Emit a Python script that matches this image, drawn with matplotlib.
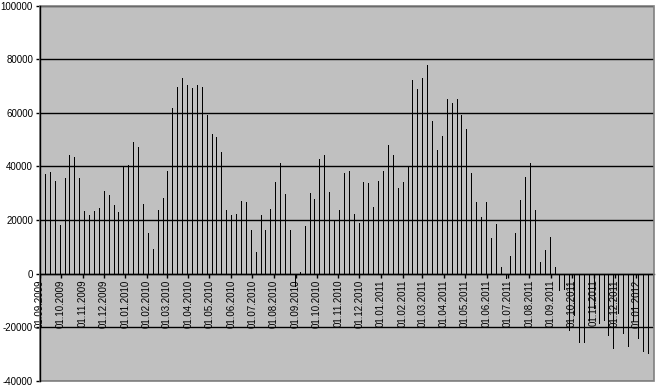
import datetime as dt
import numpy as np
import matplotlib
matplotlib.use('Agg')
import matplotlib.pyplot as plt
import matplotlib.dates as mdates
from matplotlib.patches import Rectangle

# weekly values, first week starting 08.09.2009
start_date = dt.date(2009, 9, 8)
values = [
    37200, 38100, 34700, 18200, 35700, 44400, 43700, 35500, 23500, 21900,
    23500, 24600, 31000, 29500, 25700, 22900, 39700, 40400, 49000, 47100,
    25900, 15200, 9200, 23600, 28400, 38400, 61700, 69700, 73000, 70400,
    69400, 70400, 69700, 59200, 52200, 50800, 45200, 23900, 21900, 22400,
    27100, 26600, 16200, 8100, 22000, 16400, 24000, 34300, 41400, 29600,
    16200, -4500, 500, 17700, 30100, 28000, 42900, 44200, 30600, 20000,
    23600, 37400, 38400, 22300, 19000, 34100, 33700, 25000, 34700, 38400,
    47900, 44200, 31800, 34100, 39700, 72400, 68800, 73100, 78000, 57000,
    46300, 51500, 65300, 63800, 65300, 59300, 54100, 37400, 26700, 21300,
    26700, 13400, 18700, 2500, -1500, 6700, 15200, 27600, 36200, 41200,
    23900, 4200, 8700, 13800, 2400, -6000, -5700, -20900, -15300, -25300,
    -25300, -17200, -12800, -18400, -17400, -22800, -27700, -14700, -22100, -27100,
    -17800, -24000, -29000, -29400, -19000,
]
dates = [start_date + dt.timedelta(weeks=i) for i in range(len(values))]

axis_start = dt.date(2009, 9, 1)
axis_end = dt.date(2012, 1, 26)
y_min, y_max, y_step = -40000, 100000, 20000

plt.rcParams['font.family'] = ['Liberation Sans', 'DejaVu Sans']
plt.rcParams['axes.unicode_minus'] = False

fig = plt.figure(figsize=(6.57, 3.88), dpi=100)
ax = fig.add_axes([40 / 657, 1 - 381 / 388, 614 / 657, 375.5 / 388])
ax.set_facecolor('#c0c0c0')

# one pixel wide bars
ax.vlines(dates, 0, values, colors='black', linewidth=0.72, antialiased=False, zorder=3)

ax.set_xlim(axis_start, axis_end)
ax.set_ylim(y_min, y_max)
ax.set_yticks(np.arange(y_min, y_max + 1, y_step))
ax.yaxis.grid(True, color='black', linewidth=1, zorder=1)
ax.set_axisbelow(True)

ax.xaxis.set_major_locator(mdates.MonthLocator())
ax.xaxis.set_major_formatter(mdates.DateFormatter('%d.%m.%Y'))

ax.spines['bottom'].set_position(('data', 0))
ax.spines['bottom'].set_linewidth(1)
ax.spines['left'].set_linewidth(1)
for side in ('top', 'right'):
    ax.spines[side].set_visible(False)

ax.tick_params(axis='x', direction='out', length=3, width=1, pad=1,
               labelsize=7, labelrotation=90)
ax.tick_params(axis='y', direction='out', length=3, width=1, pad=2, labelsize=7)

# grey frame on top, right and bottom
ax.add_patch(Rectangle((0, 0), 1, 1, transform=ax.transAxes, fill=False,
                       edgecolor='#808080', linewidth=1.2, zorder=5, clip_on=False))
ax.spines['left'].set_zorder(6)

fig.savefig('out.png', dpi=100, facecolor='white')
